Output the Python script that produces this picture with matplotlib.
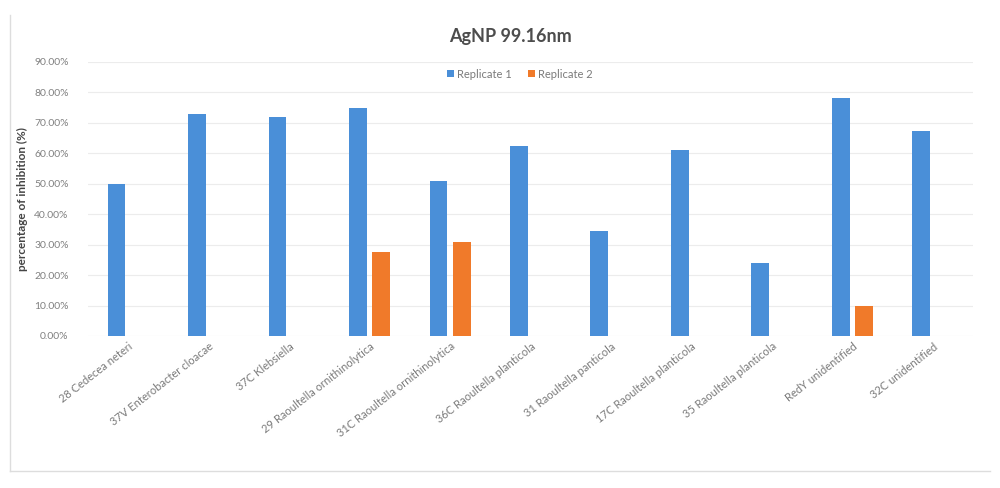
import matplotlib
matplotlib.use("Agg")
import matplotlib.pyplot as plt
import numpy as np
from matplotlib.ticker import FuncFormatter

plt.rcParams['font.family'] = ['Lato', 'DejaVu Sans']

categories = ["28 Cedecea neteri", "37V Enterobacter cloacae", "37C Klebsiella",
              "29 Raoultella ornithinolytica", "31C Raoultella ornithinolytica",
              "36C Raoultella planticola", "31 Raoultella panticola",
              "17C Raoultella planticola", "35 Raoultella planticola",
              "RedY unidentified", "32C unidentified"]
replicate1 = [0.50, 0.73, 0.72, 0.75, 0.51, 0.625, 0.345, 0.61, 0.24, 0.783, 0.674]
replicate2 = [0, 0, 0, 0.276, 0.308, 0, 0, 0, 0, 0.10, 0]
yticks = np.arange(0, 0.91, 0.10)

fig = plt.figure(figsize=(10, 4.88), dpi=100)
ax = fig.add_axes([0.088, 0.3115, 0.885, 0.5615])

x = np.arange(len(categories))
w = 0.22
off = 0.145
ax.bar(x - off, replicate1, w, color='#4a8fd8', label='Replicate 1', zorder=3)
ax.bar(x + off, replicate2, w, color='#f07a2a', label='Replicate 2', zorder=3)

ax.set_xlim(-0.5, len(categories) - 0.5)
ax.set_ylim(0, 0.9)
ax.set_yticks(yticks)
ax.yaxis.set_major_formatter(FuncFormatter(lambda v, p: f"{v*100:.2f}%"))
ax.grid(axis='y', color='#ececec', linewidth=0.8, zorder=0)
for s in ax.spines.values():
    s.set_visible(False)
ax.tick_params(axis='both', length=0, labelsize=7.5, labelcolor='#808080')
ax.tick_params(axis='y', pad=14)
ax.set_xticks(x)
ax.set_xticklabels(categories, rotation=38, ha='right', rotation_mode='anchor',
                   fontsize=8, color='#7a7a7a')
ax.set_ylabel('percentage of inhibition (%)', fontsize=8.5, fontweight='bold',
              color='#444444', labelpad=4)

fig.text(0.51, 0.925, 'AgNP 99.16nm', ha='center', va='center', fontsize=13,
         fontweight='bold', color='#4d4d4d')
leg = ax.legend(loc='center', bbox_to_anchor=(0.488, 0.956), ncol=2, frameon=True,
                fontsize=8, handlelength=0.6, handleheight=0.6, handletextpad=0.3,
                columnspacing=1.5, labelcolor='#7a7a7a')
leg.get_frame().set_facecolor('white')
leg.get_frame().set_edgecolor('none')
leg.get_frame().set_alpha(1)

# outer frame
fig.add_artist(plt.Line2D([0.01, 0.01], [0.035, 0.97], color='#dddddd', lw=1))
fig.add_artist(plt.Line2D([0.01, 0.99], [0.035, 0.035], color='#dddddd', lw=1))

fig.savefig('out.png', dpi=100, facecolor='white')
